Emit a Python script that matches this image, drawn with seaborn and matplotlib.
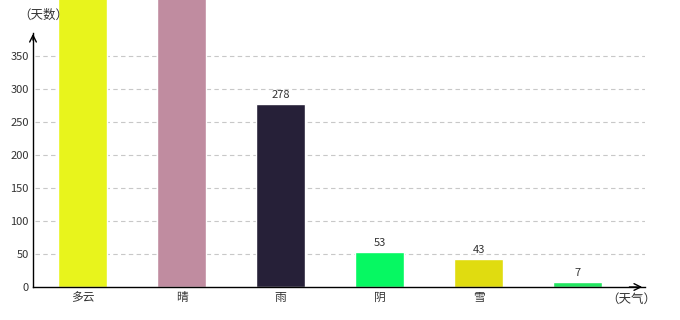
import matplotlib
matplotlib.use("Agg")
import matplotlib.pyplot as plt
import seaborn as sns
import pandas as pd

categories = ["多云", "晴", "雨", "阴", "雪", ""]
days = [620, 560, 278, 53, 43, 7]
colors = ["#e8f41c", "#c08ca0", "#262038", "#06f862", "#e0dc10", "#22e660"]
yticks = [0, 50, 100, 150, 200, 250, 300, 350]

sns.set_theme(style="white")
plt.rcParams['font.family'] = ['Noto Sans CJK SC', 'DejaVu Sans']

df = pd.DataFrame({"cat": [f"c{i}" for i in range(len(categories))], "days": days})

YMAX = 435
fig = plt.figure(figsize=(6.8, 3.2), dpi=100)
ax = fig.add_axes([33/680, 33/320, (645-33)/680, 287/320])
sns.barplot(data=df, x="cat", y="days", hue="cat", palette=colors, width=0.5,
            legend=False, ax=ax, saturation=1)
ax.set_xlim(-0.5, 5.68)
ax.set_ylim(0, YMAX)
ax.set_yticks(yticks)
ax.set_yticklabels([str(v) for v in yticks], fontsize=8, color="#333333")
ax.set_xticks(range(len(categories)))
ax.set_xticklabels(categories, fontsize=8.5, color="#333333")
ax.tick_params(axis="both", length=0, pad=3)
ax.set_xlabel("")
ax.set_ylabel("")
for v in yticks[1:]:
    ax.axhline(v, color="#c8c8c8", lw=0.8, ls=(0, (4, 3)), zorder=0, xmin=0.003)
for s in ["top", "right"]:
    ax.spines[s].set_visible(False)
ax.spines["left"].set_bounds(0, 385)
ax.spines["left"].set_color("black")
ax.spines["bottom"].set_color("black")
ax.spines["left"].set_linewidth(1)
ax.spines["bottom"].set_linewidth(1)
ax.annotate("", xy=(0, 388), xytext=(0, 370), xycoords=("axes fraction", "data"),
            arrowprops=dict(arrowstyle="->", color="black", lw=1), annotation_clip=False)
ax.annotate("", xy=(1.0, 0), xytext=(0.97, 0), xycoords=("axes fraction", "data"),
            arrowprops=dict(arrowstyle="->", color="black", lw=1), annotation_clip=False)
for i, v in enumerate(days):
    if v + 30 < YMAX:
        ax.text(i, v + 6, str(v), ha="center", va="bottom", fontsize=8, color="#333333")
fig.text(18/680, 1 - 15/320, "（天数）", fontsize=9, color="#333333", ha="left", va="center")
fig.text(606/680, 1 - 299/320, "（天气）", fontsize=9, color="#333333", ha="left", va="center")
fig.savefig("out.png", dpi=100)
